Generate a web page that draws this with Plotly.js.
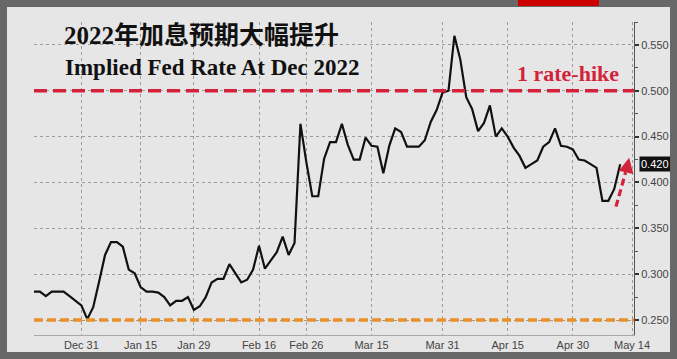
<!DOCTYPE html>
<html>
<head>
<meta charset="utf-8">
<script src="https://cdn.plot.ly/plotly-3.0.1.min.js"></script>
<style>
  html, body { margin:0; padding:0; width:677px; height:359px; background:#686868; overflow:hidden; }
  #frame { position:absolute; left:7px; top:7px; width:663px; height:345px; background:#e6e6e6; }
  #chart { width:663px; height:345px; }
  #redbar { position:absolute; left:518px; top:0; width:81px; height:6px; background:#cc0000; }
</style>
</head>
<body>
<div id="redbar"></div>
<div id="frame"><div id="chart"></div></div>
<script>
// Trading days shown (US holidays / weekends skipped)
const dates = [
  '2020-12-18','2020-12-21','2020-12-22','2020-12-23','2020-12-24','2020-12-28','2020-12-29','2020-12-30','2020-12-31',
  '2021-01-04','2021-01-05','2021-01-06','2021-01-07','2021-01-08','2021-01-11','2021-01-12','2021-01-13','2021-01-14','2021-01-15',
  '2021-01-19','2021-01-20','2021-01-21','2021-01-22','2021-01-25','2021-01-26','2021-01-27','2021-01-28','2021-01-29',
  '2021-02-01','2021-02-02','2021-02-03','2021-02-04','2021-02-05','2021-02-08','2021-02-09','2021-02-10','2021-02-11','2021-02-12',
  '2021-02-16','2021-02-17','2021-02-18','2021-02-19','2021-02-22','2021-02-23','2021-02-24','2021-02-25','2021-02-26',
  '2021-03-01','2021-03-02','2021-03-03','2021-03-04','2021-03-05','2021-03-08','2021-03-09','2021-03-10','2021-03-11','2021-03-12',
  '2021-03-15','2021-03-16','2021-03-17','2021-03-18','2021-03-19','2021-03-22','2021-03-23','2021-03-24','2021-03-25','2021-03-26',
  '2021-03-29','2021-03-30','2021-03-31','2021-04-01','2021-04-02','2021-04-05','2021-04-06','2021-04-07','2021-04-08','2021-04-09',
  '2021-04-12','2021-04-13','2021-04-14','2021-04-15','2021-04-16','2021-04-19','2021-04-20','2021-04-21','2021-04-22','2021-04-23',
  '2021-04-26','2021-04-27','2021-04-28','2021-04-29','2021-04-30','2021-05-03','2021-05-04','2021-05-05','2021-05-06','2021-05-07',
  '2021-05-10','2021-05-11','2021-05-12'
];
// Implied Fed rate at Dec 2022 (%)
const impliedRate = [
  0.281,0.281,0.276,0.281,0.281,0.281,0.276,0.271,0.266,
  0.251,0.264,0.292,0.321,0.335,0.335,0.330,0.305,0.301,0.286,
  0.281,0.281,0.280,0.275,0.266,0.271,0.271,0.275,0.261,
  0.265,0.275,0.291,0.295,0.295,0.311,0.301,0.291,0.294,0.305,
  0.331,0.306,0.315,0.324,0.341,0.321,0.334,0.464,0.422,
  0.385,0.385,0.426,0.444,0.444,0.464,0.441,0.425,0.425,0.449,
  0.440,0.439,0.410,0.440,0.459,0.455,0.439,0.439,0.439,0.446,
  0.466,0.479,0.498,0.500,0.560,0.534,0.493,0.480,0.456,0.465,
  0.484,0.450,0.459,0.450,0.438,0.429,0.416,0.420,0.424,0.439,
  0.444,0.459,0.440,0.439,0.436,0.425,0.424,0.420,0.416,0.380,
  0.380,0.393,0.420
];
const holidays = ['2020-12-25','2021-01-01','2021-01-18','2021-02-15'];
const tickDates = ['2020-12-31','2021-01-15','2021-01-29','2021-02-16','2021-02-26','2021-03-15','2021-03-31','2021-04-15','2021-04-30','2021-05-14'];
const tickLabels = ['Dec 31','Jan 15','Jan 29','Feb 16','Feb 26','Mar 15','Mar 31','Apr 15','Apr 30','May 14'];
const rateHikeLevel = 0.50;
const baseLevel = 0.25;
const titleCN = '2022年加息预期大幅提升';
const titleEN = 'Implied Fed Rate At Dec 2022';
const hikeLabel = '1 rate-hike';

const lastVal = impliedRate[impliedRate.length - 1];
const tickFont = {family:'"Liberation Sans Narrow", "Arial Narrow", "Liberation Sans", Arial, sans-serif', size:11, color:'#444'};
const serif = '"Liberation Serif", "Times New Roman", "Noto Sans CJK SC", serif';

const trace = {
  x: dates, y: impliedRate, type:'scatter', mode:'lines',
  line:{color:'#111111', width:2.2}, hoverinfo:'skip'
};

const layout = {
  width:663, height:345,
  margin:{l:27, r:36, t:15, b:17},
  paper_bgcolor:'#e6e6e6', plot_bgcolor:'#e6e6e6',
  showlegend:false,
  xaxis:{
    type:'date',
    range:['2020-12-18','2021-05-14 08:00'],
    rangebreaks:[{bounds:['sat','mon']},{values:holidays}],
    tickmode:'array', tickvals:tickDates, ticktext:tickLabels,
    showgrid:true, gridcolor:'#9c9c9c', griddash:'dot', gridwidth:1,
    showline:true, linecolor:'#a8a8a8', linewidth:1,
    ticks:'', tickfont:tickFont, zeroline:false
  },
  yaxis:{
    side:'right', range:[0.2337, 0.575],
    tick0:0.25, dtick:0.05, tickformat:'.3f',
    showgrid:true, gridcolor:'#9c9c9c', griddash:'dot', gridwidth:1,
    showline:true, linecolor:'#555', linewidth:1,
    ticks:'outside', ticklen:4, tickwidth:2, tickcolor:'#333',
    minor:{tick0:0.25, dtick:0.025, ticks:'outside', ticklen:3, tickwidth:1, tickcolor:'#555', showgrid:false},
    tickfont:tickFont, zeroline:false
  },
  shapes:[
    {type:'line', xref:'paper', x0:0, x1:1, yref:'y', y0:rateHikeLevel, y1:rateHikeLevel,
     line:{color:'#d3223a', width:3.5, dash:'13px,6px'}},
    {type:'line', xref:'paper', x0:0, x1:1, yref:'y', y0:baseLevel, y1:baseLevel,
     line:{color:'#e8902c', width:3.5, dash:'9px,4px'}},
    {type:'line', xref:'paper', x0:0.970, x1:0.986, yref:'paper', y0:0.41, y1:0.52,
     line:{color:'#d3223a', width:3.2, dash:'7px,4px'}}
  ],
  annotations:[
    {xref:'paper', yref:'paper', x:0.047, y:0.958, xanchor:'left', yanchor:'middle', showarrow:false,
     text:'<b>'+titleCN+'</b>', font:{family:serif, size:25, color:'#111'}},
    {xref:'paper', yref:'paper', x:0.048, y:0.856, xanchor:'left', yanchor:'middle', showarrow:false,
     text:'<b>'+titleEN+'</b>', font:{family:serif, size:23, color:'#111'}},
    {xref:'paper', yref:'paper', x:0.89, y:0.836, xanchor:'center', yanchor:'middle', showarrow:false,
     text:'<b>'+hikeLabel+'</b>', font:{family:serif, size:22, color:'#d3223a'}},
    {xref:'paper', yref:'y', x:1, y:lastVal, xanchor:'left', yanchor:'middle', xshift:5, showarrow:false,
     text:lastVal.toFixed(3), bgcolor:'#111', borderpad:1, font:{family:tickFont.family, size:11, color:'#fff'}},
    {xref:'paper', yref:'y', x:0.992, y:0.427, showarrow:true, ax:-3, ay:14, text:'',
     arrowhead:2, arrowsize:1, arrowwidth:3, arrowcolor:'#d3223a', standoff:0}
  ]
};

Plotly.newPlot('chart', [trace], layout, {displayModeBar:false, staticPlot:true});
</script>
</body>
</html>
